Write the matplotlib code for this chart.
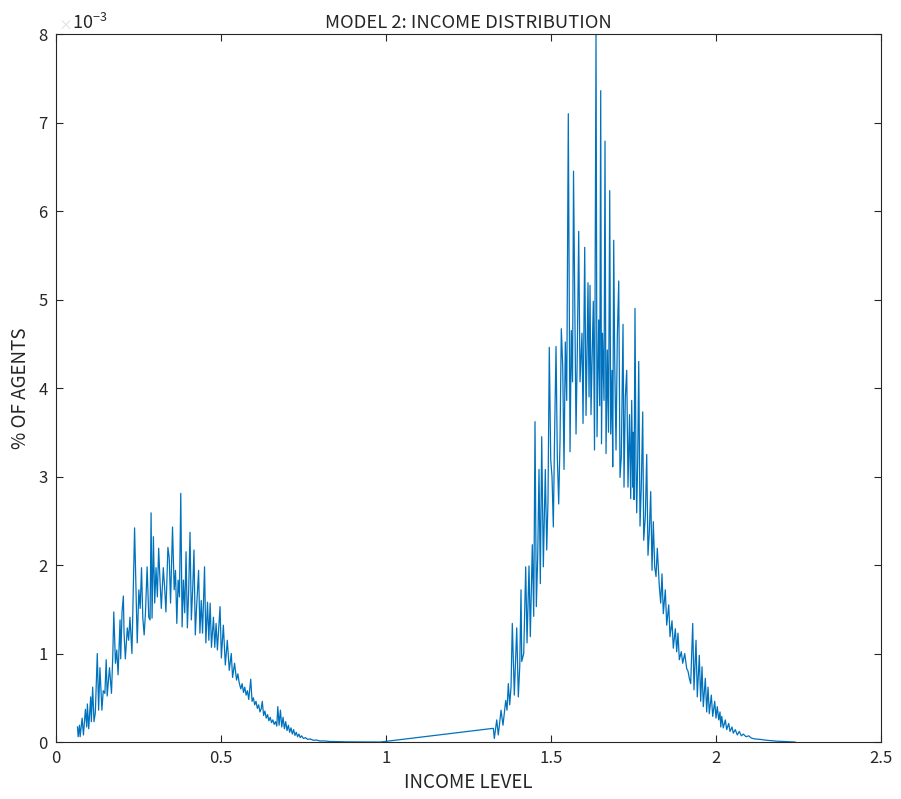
import numpy as np
import matplotlib
matplotlib.use('Agg')
import matplotlib.pyplot as plt

# income level / share of agents (x 1e-3)
low_income = [0.065, 0.067, 0.071, 0.073, 0.079, 0.083, 0.089, 0.093, 0.095, 0.099,
              0.105, 0.107, 0.111, 0.115, 0.119, 0.125, 0.129, 0.133, 0.139, 0.143,
              0.148, 0.152, 0.155, 0.162, 0.168, 0.172, 0.175, 0.180, 0.184, 0.188,
              0.194, 0.196, 0.200, 0.204, 0.206, 0.210, 0.216, 0.220, 0.224, 0.230,
              0.238, 0.246, 0.251, 0.255, 0.259, 0.263, 0.267, 0.271, 0.276, 0.281,
              0.285, 0.288, 0.291, 0.295, 0.299, 0.303, 0.307, 0.311, 0.315, 0.319,
              0.325, 0.329, 0.333, 0.339, 0.343, 0.347, 0.353, 0.358, 0.362, 0.366,
              0.370, 0.374, 0.378, 0.382, 0.386, 0.390, 0.394, 0.398, 0.402, 0.406,
              0.410, 0.414, 0.418, 0.422, 0.426, 0.432, 0.436, 0.440, 0.444, 0.450,
              0.454, 0.459, 0.463, 0.467, 0.471, 0.477, 0.481, 0.485, 0.489, 0.497,
              0.501, 0.507, 0.513, 0.519, 0.525, 0.531, 0.535, 0.541, 0.547, 0.551,
              0.555, 0.560, 0.564, 0.568, 0.572, 0.576, 0.580, 0.584, 0.590, 0.594,
              0.598, 0.602, 0.606, 0.610, 0.614, 0.618, 0.622, 0.625, 0.629, 0.633,
              0.637, 0.641, 0.645, 0.649, 0.653, 0.657, 0.661, 0.665, 0.669, 0.672,
              0.676, 0.680, 0.684, 0.688, 0.692, 0.696, 0.700, 0.704, 0.708, 0.712,
              0.716, 0.720, 0.724, 0.728, 0.732, 0.736, 0.740, 0.744, 0.750, 0.756,
              0.762, 0.770, 0.780, 0.790, 0.800, 0.815, 0.830, 0.850, 0.880, 0.910,
              0.950, 0.983]
low_share = [0.17, 0.06, 0.19, 0.06, 0.27, 0.08, 0.37, 0.17, 0.43, 0.15,
             0.51, 0.23, 0.62, 0.23, 0.33, 1.00, 0.36, 0.84, 0.36, 0.58,
             0.55, 0.93, 0.52, 0.84, 0.55, 0.98, 1.47, 0.89, 1.04, 0.76,
             1.38, 0.94, 1.47, 1.65, 1.24, 0.94, 1.29, 1.15, 1.41, 1.00,
             2.42, 1.12, 1.72, 1.51, 1.97, 1.40, 1.21, 1.46, 1.98, 1.41,
             1.38, 2.59, 1.40, 2.32, 1.57, 1.97, 1.64, 2.19, 1.83, 1.51,
             1.97, 1.75, 1.47, 2.20, 2.08, 1.57, 2.43, 1.72, 1.94, 1.34,
             1.83, 1.64, 2.81, 1.30, 1.83, 1.46, 2.15, 1.29, 1.72, 2.37,
             1.38, 1.72, 2.17, 1.21, 1.53, 1.94, 1.23, 1.60, 1.23, 1.98,
             1.12, 1.58, 1.15, 1.57, 1.07, 1.41, 1.07, 1.34, 1.04, 1.53,
             0.95, 1.32, 0.87, 1.15, 0.81, 1.00, 0.73, 0.89, 0.70, 0.77,
             0.67, 0.60, 0.66, 0.56, 0.62, 0.53, 0.58, 0.48, 0.71, 0.46,
             0.50, 0.42, 0.46, 0.38, 0.42, 0.34, 0.38, 0.46, 0.30, 0.35,
             0.27, 0.31, 0.24, 0.28, 0.22, 0.25, 0.20, 0.23, 0.18, 0.40,
             0.19, 0.36, 0.17, 0.28, 0.15, 0.23, 0.13, 0.19, 0.11, 0.16,
             0.09, 0.14, 0.075, 0.11, 0.06, 0.09, 0.05, 0.07, 0.04, 0.05,
             0.03, 0.035, 0.02, 0.022, 0.012, 0.012, 0.006, 0.005, 0.002, 0.001,
             0.0005, 0.0]

high_income = [1.3252, 1.3282, 1.3355, 1.3403, 1.3485, 1.3545, 1.3627, 1.3667, 1.3706, 1.3748,
               1.3788, 1.3827, 1.3888, 1.3961, 1.4009, 1.4052, 1.4091, 1.4112, 1.4173, 1.4233,
               1.4273, 1.4333, 1.4373, 1.4433, 1.4476, 1.4515, 1.4555, 1.4597, 1.4636, 1.4676,
               1.4718, 1.4767, 1.4827, 1.4870, 1.4909, 1.4948, 1.4991, 1.5030, 1.5070, 1.5106,
               1.5152, 1.5191, 1.5233, 1.5273, 1.5312, 1.5355, 1.5394, 1.5433, 1.5476, 1.5524,
               1.5576, 1.5615, 1.5652, 1.5682, 1.5758, 1.5797, 1.5839, 1.5879, 1.5939, 1.5970,
               1.6021, 1.6061, 1.6091, 1.6121, 1.6152, 1.6182, 1.6212, 1.6242, 1.6282, 1.6318,
               1.6364, 1.6394, 1.6445, 1.6476, 1.6506, 1.6530, 1.6561, 1.6606, 1.6636, 1.6667,
               1.6706, 1.6742, 1.6779, 1.6809, 1.6848, 1.6870, 1.6900, 1.6930, 1.6970, 1.7009,
               1.7052, 1.7091, 1.7130, 1.7182, 1.7212, 1.7252, 1.7294, 1.7333, 1.7379, 1.7415,
               1.7445, 1.7476, 1.7494, 1.7515, 1.7545, 1.7576, 1.7597, 1.7627, 1.7658, 1.7697,
               1.7736, 1.7779, 1.7809, 1.7858, 1.7900, 1.7939, 1.7979, 1.8021, 1.8061, 1.8100,
               1.8142, 1.8182, 1.8221, 1.8282, 1.8324, 1.8364, 1.8403, 1.8464, 1.8506, 1.8567,
               1.8606, 1.8667, 1.8706, 1.8767, 1.8809, 1.8848, 1.8888, 1.8948, 1.8991, 1.9052,
               1.9112, 1.9152, 1.9191, 1.9233, 1.9294, 1.9333, 1.9394, 1.9433, 1.9494, 1.9536,
               1.9576, 1.9615, 1.9676, 1.9718, 1.9758, 1.9797, 1.9858, 1.9900, 1.9961, 2.0000,
               2.0039, 2.0082, 2.0121, 2.0145, 2.0173, 2.0221, 2.0282, 2.0324, 2.0385, 2.0424,
               2.0485, 2.0524, 2.0585, 2.0645, 2.0706, 2.0767, 2.0827, 2.0909, 2.0991, 2.1070,
               2.1173, 2.1333, 2.1536, 2.1839, 2.2142, 2.2394]
high_share = [0.155, 0.04, 0.25, 0.08, 0.36, 0.19, 0.47, 0.36, 0.66, 0.42,
              0.62, 1.34, 0.53, 1.29, 0.51, 0.85, 1.72, 0.91, 1.00, 1.98,
              1.12, 1.99, 1.19, 2.23, 1.42, 3.62, 1.53, 2.10, 3.08, 1.79,
              3.45, 1.98, 3.08, 2.17, 2.73, 4.46, 3.19, 3.00, 2.43, 3.41,
              4.47, 3.22, 2.69, 3.41, 4.67, 4.24, 3.08, 4.52, 3.86, 7.10,
              3.28, 4.65, 4.07, 6.45, 3.48, 4.43, 5.77, 4.07, 4.62, 3.60,
              5.59, 3.69, 4.39, 5.19, 3.90, 5.16, 3.70, 4.28, 4.98, 3.30,
              8.00, 3.45, 4.77, 3.80, 7.36, 3.37, 4.62, 3.86, 6.79, 3.26,
              4.43, 3.50, 6.23, 3.48, 4.20, 3.11, 5.67, 4.31, 3.30, 4.58,
              5.21, 2.99, 3.22, 4.72, 2.88, 3.90, 4.20, 2.88, 3.70, 2.75,
              3.86, 2.88, 3.50, 2.74, 4.90, 3.04, 2.59, 3.19, 4.30, 2.44,
              2.88, 3.73, 2.28, 2.55, 3.25, 2.11, 2.37, 2.83, 1.94, 2.49,
              1.98, 1.87, 2.19, 1.76, 1.57, 1.90, 1.45, 1.72, 1.32, 1.55,
              1.19, 1.37, 1.06, 1.28, 1.02, 1.23, 0.93, 1.02, 0.89, 1.00,
              0.83, 0.80, 0.72, 0.66, 1.34, 0.59, 1.15, 0.51, 0.98, 0.46,
              0.85, 0.40, 0.72, 0.34, 0.62, 0.32, 0.53, 0.29, 0.46, 0.27,
              0.40, 0.25, 0.34, 0.17, 0.29, 0.16, 0.25, 0.14, 0.21, 0.12,
              0.17, 0.10, 0.14, 0.08, 0.12, 0.07, 0.09, 0.06, 0.07, 0.045,
              0.035, 0.03, 0.02, 0.01, 0.005, 0.0]

x_ticks = [0, 0.5, 1, 1.5, 2, 2.5]
x_labels = ['0', '0.5', '1', '1.5', '2', '2.5']
y_ticks = [0, 1, 2, 3, 4, 5, 6, 7, 8]

plt.rcParams['font.family'] = ['Noto Sans CJK JP', 'DejaVu Sans']
plt.rcParams['mathtext.fontset'] = 'custom'
plt.rcParams['mathtext.rm'] = 'Noto Sans CJK JP'
dark = '#262626'

income = np.array(low_income + high_income)
share = np.array(low_share + high_share) * 1e-3

fig = plt.figure(figsize=(9.01, 7.99), dpi=100)
ax = fig.add_axes([0.0622, 0.0713, 0.9156, 0.8861])
ax.plot(income, share, color='#0072BD', lw=0.9)

ax.set_xlim(0, 2.5)
ax.set_ylim(0, 0.008)
ax.set_xticks(x_ticks)
ax.set_xticklabels(x_labels)
ax.set_yticks([v * 1e-3 for v in y_ticks])
ax.set_yticklabels([str(v) for v in y_ticks])

ax.tick_params(direction='in', top=True, right=True, length=5, width=0.8,
               colors=dark, labelsize=12, pad=6)
for s in ax.spines.values():
    s.set_color(dark)
    s.set_linewidth(0.8)

ax.set_xlabel('INCOME LEVEL', fontsize=13.5, color=dark, labelpad=3)
ax.set_ylabel('% OF AGENTS', fontsize=13.5, color=dark, labelpad=5)
ax.set_title('MODEL 2: INCOME DISTRIBUTION', fontsize=13.3, color=dark, pad=4)

# exponent label in the top-left corner
ax.text(0.003, 1.002, '\u00d7', transform=ax.transAxes, fontsize=10,
        color='#e0e0e0', ha='left', va='bottom')
ax.text(0.019, 1.002, '10$^{-3}$', transform=ax.transAxes, fontsize=13,
        color=dark, ha='left', va='bottom')

fig.savefig('out.png', dpi=100)
